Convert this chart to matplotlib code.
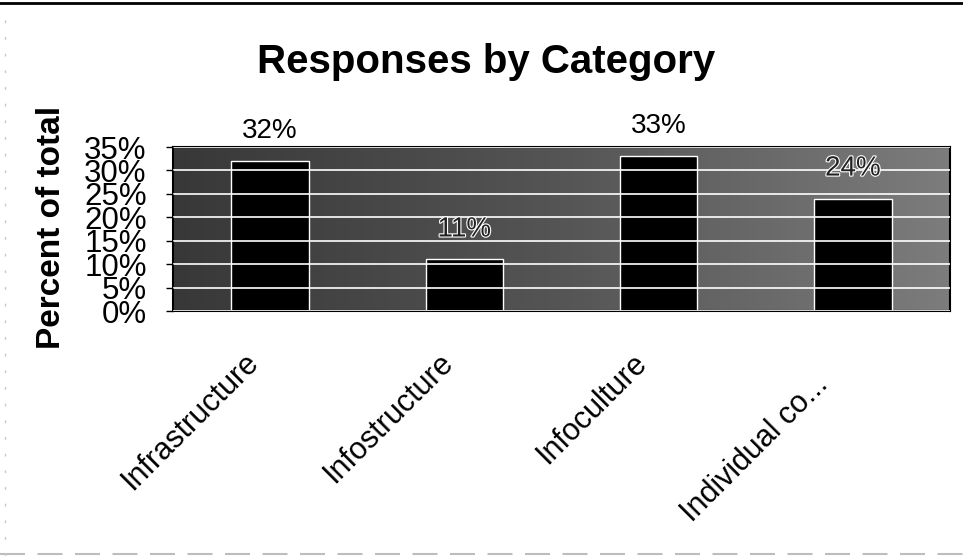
import numpy as np
import matplotlib
matplotlib.use("Agg")
import matplotlib.pyplot as plt
import matplotlib.patheffects as pe
import matplotlib.transforms as mtransforms
from matplotlib.lines import Line2D
from matplotlib.ticker import PercentFormatter

plt.rcParams['font.family'] = ['Liberation Sans', 'DejaVu Sans']

categories = ["Infrastructure", "Infostructure", "Infoculture", "Individual co..."]
shares = [32, 11, 33, 24]          # percent of all responses
value_labels = ["32%", "11%", "33%", "24%"]
y_ticks = [0, 5, 10, 15, 20, 25, 30, 35]

fig = plt.figure(figsize=(9.63, 5.56), dpi=100)
ax = fig.add_axes([0.1797, 0.4406, 0.8068, 0.2950])

x = np.arange(len(categories))
ax.set_xlim(-0.5, len(categories) - 0.5)
ax.set_ylim(0, 35)

# shaded plot backdrop, darker on the left
grad = np.linspace(0.0, 1.0, 256).reshape(1, -1)
ax.imshow(grad, extent=(-0.5, len(categories) - 0.5, 0, 35), aspect='auto',
          cmap=matplotlib.colors.LinearSegmentedColormap.from_list(
              "bg", ["#383838", "#555555", "#7c7c7c"]),
          zorder=0, interpolation='bilinear')

ax.set_yticks(y_ticks)
ax.yaxis.set_major_formatter(PercentFormatter(decimals=0))
ax.grid(axis='y', color='white', linewidth=1.2, zorder=1)
ax.set_axisbelow(False)

ax.bar(x, shares, width=0.40, color='black', edgecolor='white',
       linewidth=1.0, zorder=2)

for xi, v, lab in zip(x, shares, value_labels):
    t = ax.annotate(lab, (xi, v), xytext=(0, 30), textcoords='offset pixels',
                    ha='center', va='center', fontsize=20, annotation_clip=False,
                    zorder=3)
    if v + 30 * 35 / 164 < 35:
        t.set_color('#222222')
        t.set_path_effects([pe.withStroke(linewidth=1.6, foreground='white')])
    else:
        t.set_color('black')

ax.set_xticks(x)
ax.set_xticklabels(categories, rotation=45, ha='right',
                   rotation_mode='anchor', fontsize=22)
ax.tick_params(axis='x', length=0, pad=30)
for i, lbl in enumerate(ax.get_xticklabels()):
    dx, dy = (-27, 5) if i < len(categories) - 1 else (-40, -17)
    lbl.set_transform(lbl.get_transform() +
                      mtransforms.ScaledTranslation(dx / 100, dy / 100,
                                                    fig.dpi_scale_trans))

ax.tick_params(axis='y', length=5, width=1, pad=14, labelsize=22.5)

for s in ax.spines.values():
    s.set_color('black')
    s.set_linewidth(1.5)

ax.set_ylabel("Percent of total", fontsize=24, fontweight='bold')
ax.yaxis.set_label_coords(-0.137, 0.51)

fig.text(0.505, 0.888, "Responses by Category", ha='center', va='center',
         fontsize=29, fontweight='bold')

# page rules above and below the chart
fig.add_artist(Line2D([0, 1], [0.995, 0.995], color='black', linewidth=2))
fig.add_artist(Line2D([0, 1], [0.004, 0.004], color='#bdbdbd',
                      linewidth=1.5, linestyle=(0, (12, 6))))
fig.add_artist(Line2D([0.005, 0.005], [0.0, 0.99], color='#c8c8c8',
                      linewidth=1, linestyle=(0, (2, 10))))

fig.savefig("out.png", dpi=100)
